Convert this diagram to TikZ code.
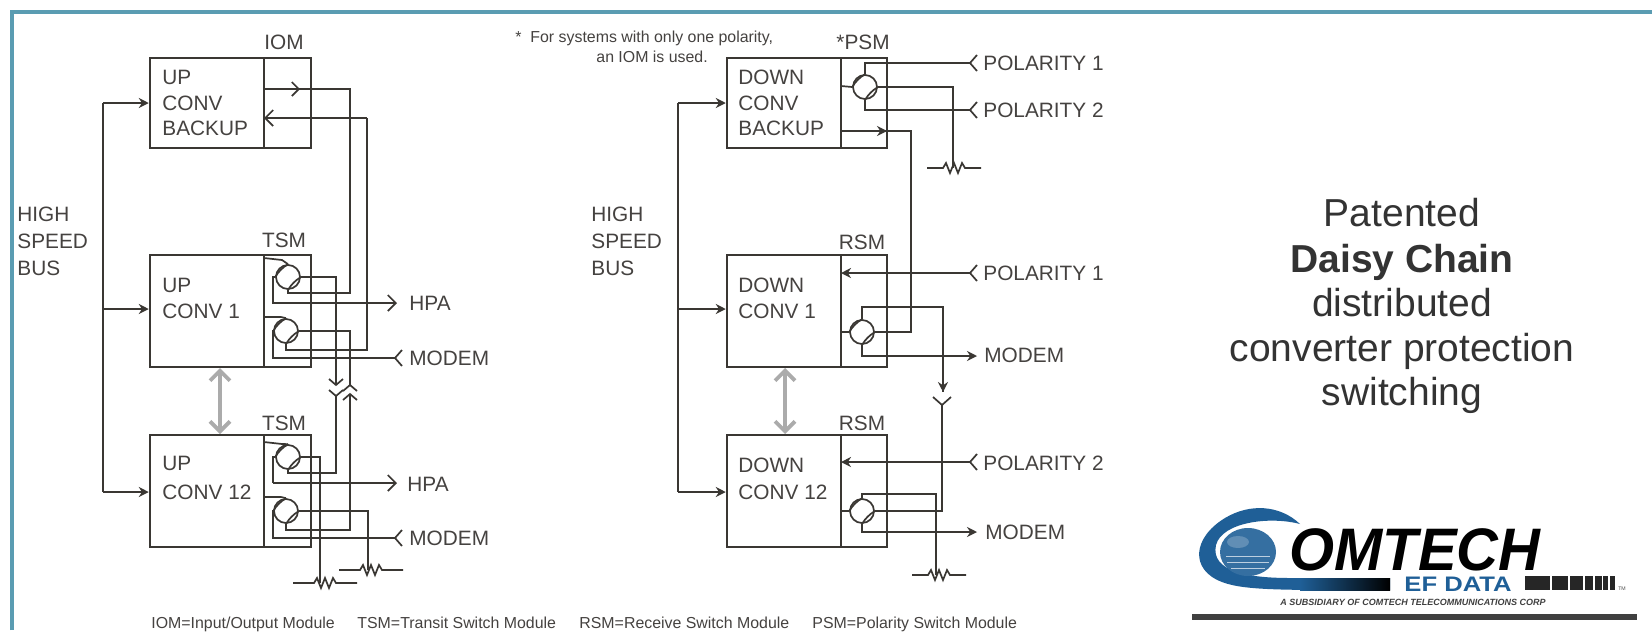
\documentclass[tikz,border=0pt]{standalone}
\usepackage{fontspec}
\setmainfont{Liberation Sans}
\usetikzlibrary{arrows.meta,calc}
\definecolor{ink}{HTML}{3A3733}
\definecolor{labelc}{HTML}{454240}
\definecolor{frame}{HTML}{5A9CB2}
\definecolor{cblue}{HTML}{1F5F97}
\newcommand{\resistor}[2]{% centre coordinate, half length
  \draw[wire] ($(#1)+(-#2,0)$) -- ($(#1)+(-11,0)$) -- ++(3,-5) -- ++(4,10) -- ++(4,-10) -- ++(4,10) -- ++(4,-10) -- ++(3,5) -- ($(#1)+(#2,0)$);}
\tikzset{
  x=0.5pt,y=-0.5pt,
  wire/.style={draw=ink,line width=0.85pt,line join=miter},
  heavy/.style={draw=ink,line width=1.15pt},
  boxline/.style={draw=ink,line width=1.25pt},
  modbox/.style={draw=ink,line width=1.25pt,inner sep=0pt},
  inarrow/.style={wire,-{Stealth[length=5pt,width=5pt]}},
  openarrow/.style={wire,-{Straight Barb[length=3.5pt,width=7pt]}},
  graydbl/.style={draw=black!33,line width=1.9pt,{Straight Barb[length=5pt,width=10pt]}-{Straight Barb[length=5pt,width=10pt]}},
  sw/.style={circle,draw=ink,line width=0.85pt,minimum size=12pt,inner sep=0pt,fill=white},
  lbl/.style={font=\fontsize{10.4}{12}\selectfont,text=labelc,inner sep=0pt},
  lleft/.style={lbl,anchor=west},
  small/.style={font=\fontsize{7.95}{9}\selectfont,text=labelc,inner sep=0pt,text height=5.8pt,text depth=1.7pt},
  bigt/.style={font=\fontsize{19.5}{22}\selectfont,text=black!80,inner sep=0pt},
}
% socket: the "<" end of a wire
\newcommand{\sockL}[1]{\draw[wire] ($(#1)+(7,-8)$) -- (#1) -- ($(#1)+(7,8)$);}
\begin{document}
\begin{tikzpicture}
\useasboundingbox (0,0) rectangle (1652,633);
\fill[white] (0,0) rectangle (1652,633);
\draw[frame,line width=2pt] (12,630) -- (12,12) -- (1652,12);

%%% boxes, left group
\node[modbox,minimum width=80.5pt,minimum height=45pt] (ub) at (230.5,103) {};
\node[modbox,minimum width=80.5pt,minimum height=56pt] (u1) at (230.5,311) {};
\node[modbox,minimum width=80.5pt,minimum height=56pt] (u12) at (230.5,491) {};
\draw[boxline] (264,58) -- (264,148) (264,255) -- (264,367) (264,435) -- (264,547);

%%% boxes, right group
\node[modbox,minimum width=80pt,minimum height=45pt] (db) at (807,103) {};
\node[modbox,minimum width=80pt,minimum height=56pt] (d1) at (807,311) {};
\node[modbox,minimum width=80pt,minimum height=56pt] (d12) at (807,491) {};
\draw[boxline] (841,58) -- (841,148) (841,255) -- (841,367) (841,435) -- (841,547);

%%% bus lines
\coordinate (ba) at (103,103); \coordinate (bb) at (103,309); \coordinate (bc) at (103,492);
\draw[heavy] (ba) -- (bc);
\draw[inarrow] (bb) -- (u1.west |- bb);
\draw[inarrow] (ba) -- (ub.west |- ba);
\draw[inarrow] (bc) -- (u12.west |- bc);
\coordinate (ca) at (678,103); \coordinate (cb) at (678,309); \coordinate (cc) at (678,492);
\draw[heavy] (ca) -- (cc);
\draw[inarrow] (cb) -- (d1.west |- cb);
\draw[inarrow] (ca) -- (db.west |- ca);
\draw[inarrow] (cc) -- (d12.west |- cc);

%%% daisy-chain arrows
\coordinate (ga) at (220,368); \coordinate (gb) at (220,434);
\draw[graydbl] (ga) -- (gb);
\coordinate (gc) at (785,368); \coordinate (gd) at (785,434);
\draw[graydbl] (gc) -- (gd);

%%% switches, left group
\node[sw] (t1a) at (288,277) {};
\node[sw] (t1b) at (286,331) {};
\node[sw] (t2a) at (288,457) {};
\node[sw] (t2b) at (286,511) {};
%%% switches, right group
\node[sw] (p) at (865,87) {};
\node[sw] (r1) at (862,332) {};
\node[sw] (r2) at (862,511) {};

%%% IOM wires
\coordinate (i1) at (264,89); \coordinate (i2) at (264,118);
\draw[heavy] (i1) -- (350,89) -- (350,293) -- (288,293) -- (t1a.south);
\draw[openarrow] (i1) -- (300,89);
\draw[wire,-{Straight Barb[length=4pt,width=8pt]}] (367,118) -- (i2);
\draw[wire] (367,118) -- (367,350) -- (286,350) -- (t1b.south);

%%% TSM 1
\draw[wire] (264,258) -- (282,260) -- (t1a.north);
\draw[wire] (264,317) -- (281,317) -- (t1b.north);
\coordinate (hpa1) at (397,303);
\draw[wire] (t1a.west) -- (273,277) -- (273,303) -- (395,303);
\draw[wire,-{Straight Barb[length=4pt,width=8pt]}] (340,303) -- (hpa1);
\coordinate (mod1) at (395,358);
\draw[heavy] (t1b.west) -- (273,331) -- (273,358) -- (mod1);
\sockL{mod1}
\coordinate (f1) at (336,385); \coordinate (f2) at (350,385);
\draw[heavy] (t1a.east) -- (336,277) -- (f1);
\draw[wire] (329,379) -- (336,385) -- (343,379);
\draw[heavy] (t1b.east) -- (350,331) -- (f2);
\draw[wire] (343,391) -- (350,385) -- (357,391);

%%% TSM 12
\draw[wire] (264,442) -- (282,444) -- (t2a.north);
\draw[wire] (264,497) -- (281,497) -- (t2b.north);
\draw[wire] (t2a.west) -- (273,457) -- (273,483);
\coordinate (hpa2) at (397,483);
\draw[wire,-{Straight Barb[length=4pt,width=8pt]}] (273,483) -- (hpa2);
\coordinate (mod2) at (395,538);
\draw[wire] (t2b.west) -- (273,511) -- (273,538) -- (mod2);
\sockL{mod2}
\coordinate (f3) at (336,396); \coordinate (f4) at (350,394);
\draw[heavy] (t2a.south) -- (288,473) -- (336,473) -- (f3);
\draw[wire] (329,390) -- (336,396) -- (343,390);
\draw[heavy] (t2b.south) -- (286,530) -- (350,530) -- (f4);
\draw[wire] (343,400) -- (350,394) -- (357,400);
\coordinate (ra) at (325,583); \coordinate (rb) at (371,570);
\draw[wire] (t2a.east) -- (320,457) -- (320,583);
\draw[heavy] (t2b.east) -- (368,511) -- (368,570);
\resistor{ra}{32}
\resistor{rb}{32}

%%% PSM wires
\coordinate (pol1) at (970,63); \coordinate (pol2) at (970,110);
\draw[wire] (841,86) -- (p.west);
\draw[heavy] (p.north) -- (865,63) -- (pol1); \sockL{pol1}
\draw[heavy] (p.south) -- (865,110) -- (pol2); \sockL{pol2}
\coordinate (rp) at (954,168);
\draw[wire] (p.east) -- (953,87) -- (953,168);
\resistor{rp}{27}
\coordinate (out) at (841,131);
\draw[heavy] (out) -- (911,131) -- (911,332) -- (r1.east);
\draw[inarrow] (out) -- (887,131);

%%% RSM 1
\coordinate (pol3) at (970,273);
\draw[heavy] (pol3) -- (850,273);
\sockL{pol3}
\draw[wire,-{Stealth[length=5pt,width=5pt]}] (860,273) -- (841,273);
\draw[wire] (841,332) -- (r1.west);
\coordinate (d) at (943,392);
\draw[wire] (r1.north) -- (862,307) -- (943,307) -- (d);
\draw[wire,-{Stealth[length=5pt,width=5pt]}] (943,370) -- (d);
\draw[wire] (933,397) -- (942,405) -- (951,397);
\coordinate (mo3) at (977,356);
\draw[heavy] (r1.south) -- (862,356) -- (970,356);
\draw[inarrow] (950,356) -- (mo3);

%%% RSM 12
\coordinate (pol4) at (970,462);
\draw[wire] (pol4) -- (850,462); \sockL{pol4}
\draw[wire,-{Stealth[length=5pt,width=5pt]}] (860,462) -- (841,462);
\draw[heavy] (841,511) -- (r2.west);
\draw[wire] (r2.east) -- (942,511) -- (942,405);
\coordinate (rq) at (939,575);
\draw[heavy] (r2.north) -- (862,494) -- (936,494) -- (936,575);
\resistor{rq}{27}
\coordinate (mo4) at (977,532);
\draw[heavy] (r2.south) -- (862,532) -- (970,532);
\draw[inarrow] (950,532) -- (mo4);

% switch contacts, drawn over the wires
\foreach \n in {t1a,t1b,t2a,t2b,p,r1,r2}{
  \draw[wire] (\n.west) to[bend left=12] (\n.north);
  \draw[wire] (\n.south) to[bend left=12] (\n.east);
}

%%% labels
\node[lbl] (tiom) at (284,42) {IOM};
\node[lbl] (tt1) at (284,240) {TSM};
\node[lbl] (tt2) at (284,423) {TSM};
\node[lbl] (tpsm) at (863,42) {*PSM};
\node[lbl] (tr1) at (862,242) {RSM};
\node[lbl] (tr2) at (862,423) {RSM};
\node[lleft] (n1) at (162,77) {UP};
\node[lleft] (n2) at (162,103) {CONV};
\node[lleft] (n3) at (162,128) {BACKUP};
\node[lleft] (n4) at (162,285) {UP};
\node[lleft] (n5) at (162,311) {CONV 1};
\node[lleft] (n6) at (162,463) {UP};
\node[lleft] (n7) at (162,492) {CONV 12};
\node[lleft] (n8) at (738,77) {DOWN};
\node[lleft] (n9) at (738,103) {CONV};
\node[lleft] (n10) at (738,128) {BACKUP};
\node[lleft] (n11) at (738,285) {DOWN};
\node[lleft] (n12) at (738,311) {CONV 1};
\node[lleft] (n13) at (738,465) {DOWN};
\node[lleft] (n14) at (738,492) {CONV 12};
\node[lleft] (h1) at (17,214) {HIGH};
\node[lleft] (h2) at (17,241) {SPEED};
\node[lleft] (h3) at (17,268) {BUS};
\node[lleft] (h4) at (591,214) {HIGH};
\node[lleft] (h5) at (591,241) {SPEED};
\node[lleft] (h6) at (591,268) {BUS};
\node[lleft] (e1) at (409,303) {HPA};
\node[lleft] (e2) at (409,358) {MODEM};
\node[lleft] (e3) at (407,484) {HPA};
\node[lleft] (e4) at (409,538) {MODEM};
\node[lleft] (e5) at (983,63) {POLARITY 1};
\node[lleft] (e6) at (983,110) {POLARITY 2};
\node[lleft] (e7) at (983,273) {POLARITY 1};
\node[lleft] (e8) at (984,355) {MODEM};
\node[lleft] (e9) at (983,463) {POLARITY 2};
\node[lleft] (e10) at (985,532) {MODEM};
\node[small,anchor=west] (fn1) at (515,38) {*\ \ For systems with only one polarity,};
\node[small,anchor=west] (fn2) at (596,58) {an IOM is used.};
\node[small,anchor=west] (k1) at (151,624) {IOM=Input/Output Module};
\node[small,anchor=west] (k2) at (357,624) {TSM=Transit Switch Module};
\node[small,anchor=west] (k3) at (579,624) {RSM=Receive Switch Module};
\node[small,anchor=west] (k4) at (812,624) {PSM=Polarity Switch Module};

%%% big text
\node[bigt] (b1) at (1402,213) {Patented};
\node[bigt,font=\fontsize{19.5}{22}\selectfont\bfseries] (b2) at (1402,262) {Daisy Chain};
\node[bigt] (b3) at (1402,303) {distributed};
\node[bigt] (b4) at (1402,351) {converter protection};
\node[bigt] (b5) at (1402,395) {switching};

%%% logo
\fill[cblue] (1300,524) .. controls (1280,505) and (1250,503) .. (1225,518)
  .. controls (1192,538) and (1190,570) .. (1222,582)
  .. controls (1245,591) and (1290,590) .. (1390,590) -- (1390,578)
  -- (1290,578) .. controls (1250,578) and (1210,572) .. (1216,545)
  .. controls (1222,522) and (1270,516) .. (1300,524) -- cycle;
\fill[left color=cblue,right color=black] (1300,578) rectangle (1390,590);
\fill[cblue!90] (1248,552) ellipse[x radius=28,y radius=24];
\foreach \yy/\xa/\xb in {556/1226/1270,562/1227/1269,568/1231/1265}{\draw[white!70!cblue,line width=0.5pt] (\xa,\yy) -- (\xb,\yy);}
\fill[white,opacity=.22] (1238,542) ellipse[x radius=11,y radius=6];
\node[inner sep=0pt,anchor=west,text=black,font=\fontsize{30}{30}\bfseries\itshape,text height=21.6pt,text depth=0pt] (cm) at (1289,549) {\scalebox{.965}[1]{OMTECH}};
\node[inner sep=0pt,text=cblue,font=\fontsize{10.5}{11}\bfseries,text height=7.6pt,text depth=0pt] (ef) at (1458,584) {\scalebox{1.22}[1]{EF DATA}};
\foreach \xa/\xb in {1525/1550,1552/1568,1570/1583,1585/1593,1595/1602,1603/1608,1610/1615}{
  \fill[black!85] (\xa,576) rectangle (\xb,590);}
\node[inner sep=0pt,text=black!70,font=\fontsize{2.6}{3}\selectfont] (tm) at (1622,589) {TM};
\node[inner sep=0pt,text=black!75,font=\fontsize{4.5}{5}\bfseries\itshape] (sub) at (1413,602) {A SUBSIDIARY OF COMTECH TELECOMMUNICATIONS CORP};
\draw[draw=black!75,line width=2.6pt] (1192,617) -- (1637,617);
\end{tikzpicture}
\end{document}
